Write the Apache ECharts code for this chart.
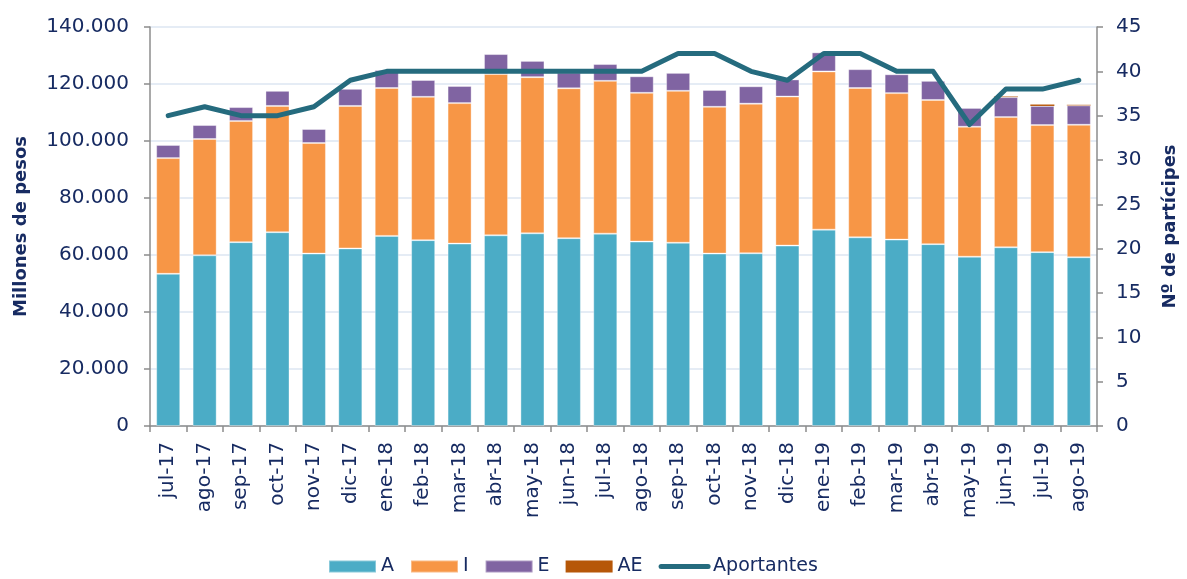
<!DOCTYPE html>
<html>
<head>
<meta charset="utf-8">
<script src="https://cdn.jsdelivr.net/npm/echarts@6/dist/echarts.min.js"></script>
<style>
html,body{margin:0;padding:0;background:#fff;}
#chart{width:1187px;height:579px;}
</style>
</head>
<body>
<div id="chart"></div>
<script>
const categories = ['jul-17','ago-17','sep-17','oct-17','nov-17','dic-17','ene-18','feb-18','mar-18','abr-18','may-18','jun-18','jul-18','ago-18','sep-18','oct-18','nov-18','dic-18','ene-19','feb-19','mar-19','abr-19','may-19','jun-19','jul-19','ago-19'];
const seriesA = [53400,59900,64500,68000,60500,62300,66700,65200,64000,66900,67600,65900,67500,64700,64300,60500,60600,63300,68900,66200,65400,63800,59400,62700,61000,59200];
const seriesI = [40600,40800,42500,44300,38800,50000,51900,50300,49300,56600,54800,52600,53600,52200,53300,51500,52500,52300,55500,52400,51400,50600,45600,45700,44600,46500];
const seriesE = [4600,4900,4900,5300,4900,6000,6300,5900,6000,7000,5700,5500,5900,5800,6300,5900,6100,6000,6700,6600,6600,6700,6600,7000,6700,6800];
const seriesAE = [0,0,0,0,0,0,0,0,0,0,0,0,0,0,0,0,0,0,0,0,0,0,0,200,500,200];
const aportantes = [35,36,35,35,36,39,40,40,40,40,40,40,40,40,42,42,40,39,42,42,40,40,34,38,38,39];
const leftTicks = {min:0, max:140000, interval:20000};
const rightTicks = {min:0, max:45, interval:5};

const txt = '#172b62';
const axisGrey = '#8c8c8c';
const font = 'DejaVu Sans';

const chart = echarts.init(document.getElementById('chart'));
const barCommon = {
  type:'bar', stack:'total', barWidth:'66%',
  emphasis:{disabled:true}
};
chart.setOption({
  animation:false,
  textStyle:{fontFamily:font, color:txt},
  grid:{left:150, right:77, top:27, bottom:153},
  legend:{
    left:323, top:552, itemWidth:47, itemHeight:12, itemGap:16,
    textStyle:{fontFamily:font, fontSize:19, color:txt},
    data:[
      {name:'A', icon:'rect'},
      {name:'I', icon:'rect'},
      {name:'E', icon:'rect'},
      {name:'AE', icon:'rect'},
      {name:'Aportantes', itemStyle:{opacity:0}, lineStyle:{width:5, cap:'round', color:'#256b7e'}}
    ]
  },
  xAxis:{
    type:'category', data:categories, boundaryGap:true,
    axisLine:{lineStyle:{color:axisGrey, width:1.5}},
    axisTick:{show:true, length:6, lineStyle:{color:axisGrey, width:1.5}},
    axisLabel:{rotate:90, fontSize:20, color:txt, fontFamily:font, margin:16, interval:0}
  },
  yAxis:[
    {
      type:'value', min:leftTicks.min, max:leftTicks.max, interval:leftTicks.interval,
      name:'Millones de pesos', nameLocation:'middle', nameRotate:90, nameGap:120,
      nameTextStyle:{fontFamily:font, fontSize:18, fontWeight:'bold', color:txt},
      axisLine:{show:true, lineStyle:{color:axisGrey, width:1.5}},
      axisTick:{show:true, length:6, lineStyle:{color:axisGrey, width:1.5}},
      axisLabel:{fontSize:20, color:txt, fontFamily:font, margin:21,
        formatter:v => String(v).replace(/\B(?=(\d{3})+(?!\d))/g,'.')},
      splitLine:{show:true, lineStyle:{color:'#dce6f2', width:1.5}}
    },
    {
      type:'value', min:rightTicks.min, max:rightTicks.max, interval:rightTicks.interval,
      position:'right',
      name:'Nº de partícipes', nameLocation:'middle', nameRotate:90, nameGap:64,
      nameTextStyle:{fontFamily:font, fontSize:18, fontWeight:'bold', color:txt},
      axisLine:{show:true, lineStyle:{color:axisGrey, width:1.5}},
      axisTick:{show:true, length:6, lineStyle:{color:axisGrey, width:1.5}},
      axisLabel:{fontSize:20, color:txt, fontFamily:font, margin:19},
      splitLine:{show:false}
    }
  ],
  series:[
    Object.assign({}, barCommon, {name:'A', data:seriesA, itemStyle:{color:'#4bacc6', borderColor:'rgba(255,255,255,0.35)', borderWidth:1}}),
    Object.assign({}, barCommon, {name:'I', data:seriesI, itemStyle:{color:'#f79646', borderColor:'rgba(255,255,255,0.35)', borderWidth:1}}),
    Object.assign({}, barCommon, {name:'E', data:seriesE, itemStyle:{color:'#8064a2', borderColor:'rgba(255,255,255,0.35)', borderWidth:1}}),
    Object.assign({}, barCommon, {name:'AE', data:seriesAE, itemStyle:{color:'#b65708'}}),
    {
      name:'Aportantes', type:'line', yAxisIndex:1, data:aportantes,
      symbol:'none', showSymbol:false, color:'#256b7e',
      lineStyle:{color:'#256b7e', width:5, cap:'round', join:'round'},
      emphasis:{disabled:true}, z:5
    }
  ]
});
</script>
</body>
</html>
